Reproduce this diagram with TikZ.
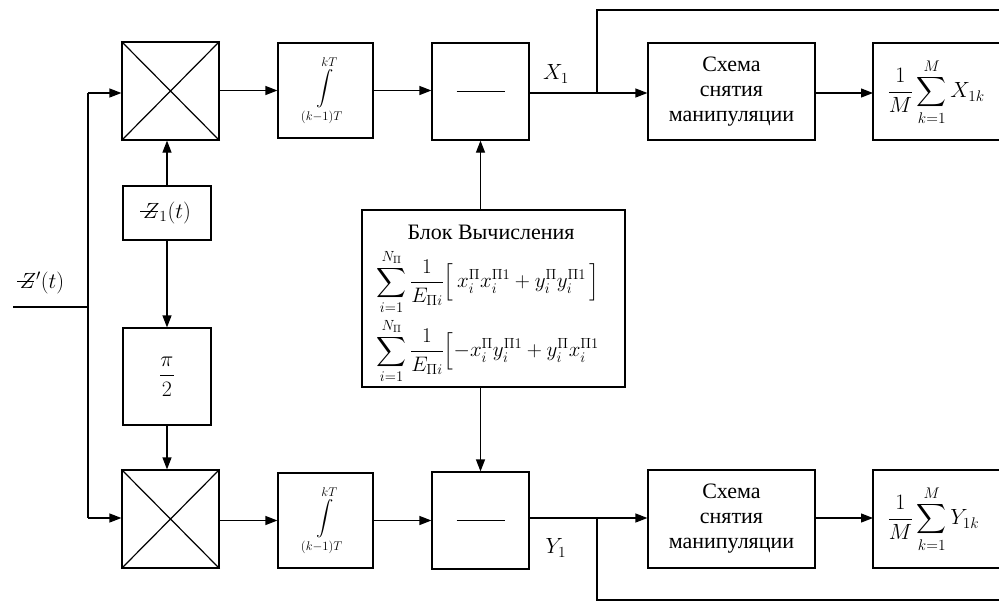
\RequirePackage{fix-cm}
\documentclass[tikz,border=0pt]{standalone}
\usepackage{amsmath}
\usepackage[no-math]{fontspec}
\setmainfont{Liberation Serif}
\usetikzlibrary{arrows.meta}
% Z with a horizontal stroke
\newcommand{\zstroke}{\makebox[0pt][l]{\hspace{-0.12em}\raisebox{0.28em}{\rule{0.78em}{0.055em}}}\ensuremath{Z}}
\begin{document}
\begin{tikzpicture}[x=1pt,y=-1pt,
  line width=1.2pt,
  every node/.style={font=\fontsize{22}{25}\selectfont},
  blk/.style={draw,rectangle,inner sep=0pt,align=center},
  intg/.style={blk,minimum width=95pt,minimum height=95pt,font=\fontsize{18}{20}\selectfont},
  formula/.style={anchor=west,inner sep=0pt,font=\fontsize{21}{23}\selectfont},
  arr/.style={-{Triangle[length=12pt,width=9pt]}}]
\useasboundingbox (0,0) rectangle (999,603);

% multipliers
\node[blk,minimum width=97pt,minimum height=98pt] (m1) at (170.5,91) {};
\node[blk,minimum width=97pt,minimum height=98pt] (m2) at (170.5,519) {};
\foreach \m in {m1,m2}{
  \draw (\m.north west) -- (\m.south east) (\m.north east) -- (\m.south west);}

% reference signal and phase shifter
\node[blk,minimum width=88pt,minimum height=54pt] (ref) at (167,213) {\zstroke$_1(t)$};
\node[blk,minimum width=88pt,minimum height=97pt] (ph) at (167,376.5) {$\dfrac{\pi}{2}$};

% integrators
\node[intg] (int1) at (325.5,90.5) {$\displaystyle\int\limits_{(k-1)T}^{kT}$};
\node[intg] (int2) at (325.5,520.5) {$\displaystyle\int\limits_{(k-1)T}^{kT}$};

% subtractors
\node[blk,minimum width=97pt,minimum height=97pt] (sub1) at (480.5,91.5) {};
\node[blk,minimum width=97pt,minimum height=97pt] (sub2) at (480.5,520.5) {};
\foreach \s in {sub1,sub2}{
  \draw ([xshift=-24pt]\s.center) -- ([xshift=24pt]\s.center);}

% computation block
\node[blk,minimum width=263pt,minimum height=177pt] (calc) at (493.5,298.5) {};
\node[anchor=center] (ttl) at (491,232) {Блок Вычисления};
\node[formula] (f1) at (376,282)
  {$\displaystyle\sum_{i=1}^{N_{\Pi}}\frac{1}{E_{\Pi i}}\Bigl[\,x_i^{\Pi}x_i^{\Pi1}+y_i^{\Pi}y_i^{\Pi1}\,\Bigr]$};
\node[formula] (f2) at (376,351)
  {$\displaystyle\sum_{i=1}^{N_{\Pi}}\frac{1}{E_{\Pi i}}\Bigl[-x_i^{\Pi}y_i^{\Pi1}+y_i^{\Pi}x_i^{\Pi1}$};

% manipulation removal
\node[blk,minimum width=167pt,minimum height=97pt] (sch1) at (731.5,91.5) {Схема\\снятия\\манипуляции};
\node[blk,minimum width=167pt,minimum height=98pt] (sch2) at (731.5,519) {Схема\\снятия\\манипуляции};

% averagers (run past the right edge)
\coordinate (a1w) at (873,91.5);
\coordinate (a2w) at (873,519);
\draw (1010,43) -- (873,43) -- (873,140) -- (1010,140);
\draw (1010,470) -- (873,470) -- (873,568) -- (1010,568);
\node[anchor=west,inner sep=0pt] (avg1) at (887,92) {$\dfrac{1}{M}\displaystyle\sum_{k=1}^{M}X_{1k}$};
\node[anchor=west,inner sep=0pt] (avg2) at (887,519) {$\dfrac{1}{M}\displaystyle\sum_{k=1}^{M}Y_{1k}$};

% input
\coordinate (in) at (13,307);
\coordinate (bus) at (88,307);
\coordinate (busT) at (88,93);
\coordinate (busB) at (88,518);
\node (inlbl) at (42,283) {\zstroke$'(t)$};
\draw (in) -- (bus);
\draw (busT) -- (busB);
\draw[arr] (busT) -- (m1.west|-busT);
\draw[arr] (busB) -- (m2.west|-busB);

% reference paths
\draw[arr] (ref.north) -- (ref.north|-m1.south);
\draw[arr] (ref.south) -- (ph.north);
\draw[arr] (ph.south) -- (ph.south|-m2.north);

% main chains
\draw[arr] (m1.east|-int1) -- (int1.west);
\draw[arr] (m2.east|-int2) -- (int2.west);
\draw[arr] (int1.east) -- (sub1.west|-int1.east);
\draw[arr] (int2.east) -- (sub2.west|-int2.east);
\draw[arr] (calc.north-|sub1) -- (sub1.south);
\draw[arr] (calc.south-|sub2) -- (sub2.north);

% outputs
\coordinate (j1) at (597,93);
\coordinate (j2) at (597,518);
\draw[arr] (sub1.east|-j1) -- (sch1.west|-j1);
\draw[arr] (sub2.east|-j2) -- (sch2.west|-j2);
\node at (556,74) {$X_1$};
\node at (556,548) {$Y_1$};
\draw (j1) -- (597,10) -- (1010,10);
\draw (j2) -- (597,600) -- (1010,600);
\draw[arr] (sch1.east|-j1) -- (a1w|-j1);
\draw[arr] (sch2.east|-j2) -- (a2w|-j2);
\end{tikzpicture}
\end{document}
